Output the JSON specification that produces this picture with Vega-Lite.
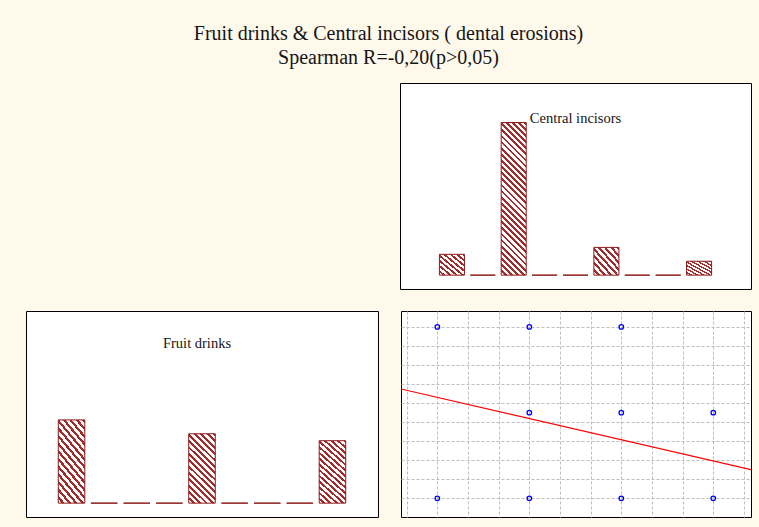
{
  "$schema": "https://vega.github.io/schema/vega-lite/v6.json",
  "background": "#FFF9EC",
  "padding": {"left": 25, "top": 23, "right": 7, "bottom": 10},
  "title": {
    "text": ["Fruit drinks & Central incisors ( dental erosions)", "Spearman R=-0,20(p>0,05)"],
    "font": "Liberation Serif", "fontSize": 20, "fontWeight": "normal", "color": "#151515",
    "lineHeight": 24, "anchor": "middle", "offset": 15
  },
  "config": {
    "view": {"fill": "#FFFFFF", "stroke": "#000000", "strokeWidth": 1}
  },
  "datasets": {
    "central": [
      {"bin": 1, "count": 3}, {"bin": 2, "count": 0}, {"bin": 3, "count": 22},
      {"bin": 4, "count": 0}, {"bin": 5, "count": 0}, {"bin": 6, "count": 4},
      {"bin": 7, "count": 0}, {"bin": 8, "count": 0}, {"bin": 9, "count": 2}
    ],
    "fruit": [
      {"bin": 1, "count": 12}, {"bin": 2, "count": 0}, {"bin": 3, "count": 0},
      {"bin": 4, "count": 0}, {"bin": 5, "count": 10}, {"bin": 6, "count": 0},
      {"bin": 7, "count": 0}, {"bin": 8, "count": 0}, {"bin": 9, "count": 9}
    ],
    "scatter": [
      {"x": 0, "y": 2}, {"x": 1, "y": 2}, {"x": 2, "y": 2},
      {"x": 1, "y": 1}, {"x": 2, "y": 1}, {"x": 3, "y": 1},
      {"x": 0, "y": 0}, {"x": 1, "y": 0}, {"x": 2, "y": 0}, {"x": 3, "y": 0}
    ],
    "fit": [
      {"x": -0.395, "y": 1.276}, {"x": 3.41, "y": 0.334}
    ]
  },
  "vconcat": [
    {
      "spacing": 21,
      "hconcat": [
        {
          "width": 352, "height": 206,
          "data": {"values": []},
          "mark": {"type": "point", "opacity": 0, "size": 0},
          "view": {"stroke": null, "fill": null}
        },
        {
          "width": 351, "height": 206,
          "data": {"name": "central"},
          "layer": [
            {
              "transform": [{"filter": "datum.count < 10"}],
              "mark": {
                "type": "bar", "stroke": "#8B1A1A", "strokeWidth": 1,
                "fill": {"gradient": "linear", "x1": 0, "y1": 1, "x2": 1, "y2": 0, "stops": [
                  {"offset": 0, "color": "#FFFFFF"}, {"offset": 0.0688, "color": "#FFFFFF"}, {"offset": 0.0688, "color": "#A02C2C"}, {"offset": 0.125, "color": "#A02C2C"},
                  {"offset": 0.125, "color": "#FFFFFF"}, {"offset": 0.1938, "color": "#FFFFFF"}, {"offset": 0.1938, "color": "#A02C2C"}, {"offset": 0.25, "color": "#A02C2C"},
                  {"offset": 0.25, "color": "#FFFFFF"}, {"offset": 0.3188, "color": "#FFFFFF"}, {"offset": 0.3188, "color": "#A02C2C"}, {"offset": 0.375, "color": "#A02C2C"},
                  {"offset": 0.375, "color": "#FFFFFF"}, {"offset": 0.4438, "color": "#FFFFFF"}, {"offset": 0.4438, "color": "#A02C2C"}, {"offset": 0.5, "color": "#A02C2C"},
                  {"offset": 0.5, "color": "#FFFFFF"}, {"offset": 0.5688, "color": "#FFFFFF"}, {"offset": 0.5688, "color": "#A02C2C"}, {"offset": 0.625, "color": "#A02C2C"},
                  {"offset": 0.625, "color": "#FFFFFF"}, {"offset": 0.6938, "color": "#FFFFFF"}, {"offset": 0.6938, "color": "#A02C2C"}, {"offset": 0.75, "color": "#A02C2C"},
                  {"offset": 0.75, "color": "#FFFFFF"}, {"offset": 0.8188, "color": "#FFFFFF"}, {"offset": 0.8188, "color": "#A02C2C"}, {"offset": 0.875, "color": "#A02C2C"},
                  {"offset": 0.875, "color": "#FFFFFF"}, {"offset": 0.9438, "color": "#FFFFFF"}, {"offset": 0.9438, "color": "#A02C2C"}, {"offset": 1, "color": "#A02C2C"}
                ]}
              },
              "encoding": {
                "x": {"field": "bin", "type": "ordinal", "scale": {"domain": [0, 1, 2, 3, 4, 5, 6, 7, 8, 9, 10], "paddingInner": 0.19, "paddingOuter": 0.275}, "axis": null},
                "y": {"field": "count", "type": "quantitative", "scale": {"domain": [-2, 27.7], "nice": false, "zero": false}, "axis": null},
                "y2": {"datum": 0}
              }
            },
            {
              "transform": [{"filter": "datum.count >= 10"}],
              "mark": {
                "type": "bar", "stroke": "#8B1A1A", "strokeWidth": 1,
                "fill": {"gradient": "linear", "x1": 0, "y1": 1, "x2": 0.1858, "y2": -0.1334, "stops": [
                  {"offset": 0, "color": "#FFFFFF"}, {"offset": 0.019, "color": "#FFFFFF"}, {"offset": 0.019, "color": "#A02C2C"}, {"offset": 0.0345, "color": "#A02C2C"},
                  {"offset": 0.0345, "color": "#FFFFFF"}, {"offset": 0.0534, "color": "#FFFFFF"}, {"offset": 0.0534, "color": "#A02C2C"}, {"offset": 0.069, "color": "#A02C2C"},
                  {"offset": 0.069, "color": "#FFFFFF"}, {"offset": 0.0879, "color": "#FFFFFF"}, {"offset": 0.0879, "color": "#A02C2C"}, {"offset": 0.1034, "color": "#A02C2C"},
                  {"offset": 0.1034, "color": "#FFFFFF"}, {"offset": 0.1224, "color": "#FFFFFF"}, {"offset": 0.1224, "color": "#A02C2C"}, {"offset": 0.1379, "color": "#A02C2C"},
                  {"offset": 0.1379, "color": "#FFFFFF"}, {"offset": 0.1569, "color": "#FFFFFF"}, {"offset": 0.1569, "color": "#A02C2C"}, {"offset": 0.1724, "color": "#A02C2C"},
                  {"offset": 0.1724, "color": "#FFFFFF"}, {"offset": 0.1914, "color": "#FFFFFF"}, {"offset": 0.1914, "color": "#A02C2C"}, {"offset": 0.2069, "color": "#A02C2C"},
                  {"offset": 0.2069, "color": "#FFFFFF"}, {"offset": 0.2259, "color": "#FFFFFF"}, {"offset": 0.2259, "color": "#A02C2C"}, {"offset": 0.2414, "color": "#A02C2C"},
                  {"offset": 0.2414, "color": "#FFFFFF"}, {"offset": 0.2603, "color": "#FFFFFF"}, {"offset": 0.2603, "color": "#A02C2C"}, {"offset": 0.2759, "color": "#A02C2C"},
                  {"offset": 0.2759, "color": "#FFFFFF"}, {"offset": 0.2948, "color": "#FFFFFF"}, {"offset": 0.2948, "color": "#A02C2C"}, {"offset": 0.3103, "color": "#A02C2C"},
                  {"offset": 0.3103, "color": "#FFFFFF"}, {"offset": 0.3293, "color": "#FFFFFF"}, {"offset": 0.3293, "color": "#A02C2C"}, {"offset": 0.3448, "color": "#A02C2C"},
                  {"offset": 0.3448, "color": "#FFFFFF"}, {"offset": 0.3638, "color": "#FFFFFF"}, {"offset": 0.3638, "color": "#A02C2C"}, {"offset": 0.3793, "color": "#A02C2C"},
                  {"offset": 0.3793, "color": "#FFFFFF"}, {"offset": 0.3983, "color": "#FFFFFF"}, {"offset": 0.3983, "color": "#A02C2C"}, {"offset": 0.4138, "color": "#A02C2C"},
                  {"offset": 0.4138, "color": "#FFFFFF"}, {"offset": 0.4328, "color": "#FFFFFF"}, {"offset": 0.4328, "color": "#A02C2C"}, {"offset": 0.4483, "color": "#A02C2C"},
                  {"offset": 0.4483, "color": "#FFFFFF"}, {"offset": 0.4672, "color": "#FFFFFF"}, {"offset": 0.4672, "color": "#A02C2C"}, {"offset": 0.4828, "color": "#A02C2C"},
                  {"offset": 0.4828, "color": "#FFFFFF"}, {"offset": 0.5017, "color": "#FFFFFF"}, {"offset": 0.5017, "color": "#A02C2C"}, {"offset": 0.5172, "color": "#A02C2C"},
                  {"offset": 0.5172, "color": "#FFFFFF"}, {"offset": 0.5362, "color": "#FFFFFF"}, {"offset": 0.5362, "color": "#A02C2C"}, {"offset": 0.5517, "color": "#A02C2C"},
                  {"offset": 0.5517, "color": "#FFFFFF"}, {"offset": 0.5707, "color": "#FFFFFF"}, {"offset": 0.5707, "color": "#A02C2C"}, {"offset": 0.5862, "color": "#A02C2C"},
                  {"offset": 0.5862, "color": "#FFFFFF"}, {"offset": 0.6052, "color": "#FFFFFF"}, {"offset": 0.6052, "color": "#A02C2C"}, {"offset": 0.6207, "color": "#A02C2C"},
                  {"offset": 0.6207, "color": "#FFFFFF"}, {"offset": 0.6397, "color": "#FFFFFF"}, {"offset": 0.6397, "color": "#A02C2C"}, {"offset": 0.6552, "color": "#A02C2C"},
                  {"offset": 0.6552, "color": "#FFFFFF"}, {"offset": 0.6741, "color": "#FFFFFF"}, {"offset": 0.6741, "color": "#A02C2C"}, {"offset": 0.6897, "color": "#A02C2C"},
                  {"offset": 0.6897, "color": "#FFFFFF"}, {"offset": 0.7086, "color": "#FFFFFF"}, {"offset": 0.7086, "color": "#A02C2C"}, {"offset": 0.7241, "color": "#A02C2C"},
                  {"offset": 0.7241, "color": "#FFFFFF"}, {"offset": 0.7431, "color": "#FFFFFF"}, {"offset": 0.7431, "color": "#A02C2C"}, {"offset": 0.7586, "color": "#A02C2C"},
                  {"offset": 0.7586, "color": "#FFFFFF"}, {"offset": 0.7776, "color": "#FFFFFF"}, {"offset": 0.7776, "color": "#A02C2C"}, {"offset": 0.7931, "color": "#A02C2C"},
                  {"offset": 0.7931, "color": "#FFFFFF"}, {"offset": 0.8121, "color": "#FFFFFF"}, {"offset": 0.8121, "color": "#A02C2C"}, {"offset": 0.8276, "color": "#A02C2C"},
                  {"offset": 0.8276, "color": "#FFFFFF"}, {"offset": 0.8466, "color": "#FFFFFF"}, {"offset": 0.8466, "color": "#A02C2C"}, {"offset": 0.8621, "color": "#A02C2C"},
                  {"offset": 0.8621, "color": "#FFFFFF"}, {"offset": 0.881, "color": "#FFFFFF"}, {"offset": 0.881, "color": "#A02C2C"}, {"offset": 0.8966, "color": "#A02C2C"},
                  {"offset": 0.8966, "color": "#FFFFFF"}, {"offset": 0.9155, "color": "#FFFFFF"}, {"offset": 0.9155, "color": "#A02C2C"}, {"offset": 0.931, "color": "#A02C2C"},
                  {"offset": 0.931, "color": "#FFFFFF"}, {"offset": 0.95, "color": "#FFFFFF"}, {"offset": 0.95, "color": "#A02C2C"}, {"offset": 0.9655, "color": "#A02C2C"},
                  {"offset": 0.9655, "color": "#FFFFFF"}, {"offset": 0.9845, "color": "#FFFFFF"}, {"offset": 0.9845, "color": "#A02C2C"}, {"offset": 1, "color": "#A02C2C"}
                ]}
              },
              "encoding": {
                "x": {"field": "bin", "type": "ordinal", "scale": {"domain": [0, 1, 2, 3, 4, 5, 6, 7, 8, 9, 10], "paddingInner": 0.19, "paddingOuter": 0.275}, "axis": null},
                "y": {"field": "count", "type": "quantitative", "scale": {"domain": [-2, 27.7], "nice": false, "zero": false}, "axis": null},
                "y2": {"datum": 0}
              }
            },
            {
              "data": {"values": [{"label": "Central incisors"}]},
              "mark": {"type": "text", "font": "Liberation Serif", "fontSize": 14.5, "color": "#151515", "baseline": "middle", "align": "center"},
              "encoding": {
                "x": {"datum": 5, "type": "ordinal"},
                "y": {"datum": 22.5, "type": "quantitative"},
                "text": {"field": "label", "type": "nominal"}
              }
            }
          ]
        }
      ]
    },
    {
      "spacing": 21,
      "hconcat": [
        {
          "width": 352, "height": 206,
          "data": {"name": "fruit"},
          "layer": [
            {
              "mark": {
                "type": "bar", "stroke": "#8B1A1A", "strokeWidth": 1,
                "fill": {"gradient": "linear", "x1": 0, "y1": 1, "x2": 0.455, "y2": -0.2057, "stops": [
                  {"offset": 0, "color": "#FFFFFF"}, {"offset": 0.0367, "color": "#FFFFFF"}, {"offset": 0.0367, "color": "#A02C2C"}, {"offset": 0.0667, "color": "#A02C2C"},
                  {"offset": 0.0667, "color": "#FFFFFF"}, {"offset": 0.1033, "color": "#FFFFFF"}, {"offset": 0.1033, "color": "#A02C2C"}, {"offset": 0.1333, "color": "#A02C2C"},
                  {"offset": 0.1333, "color": "#FFFFFF"}, {"offset": 0.17, "color": "#FFFFFF"}, {"offset": 0.17, "color": "#A02C2C"}, {"offset": 0.2, "color": "#A02C2C"},
                  {"offset": 0.2, "color": "#FFFFFF"}, {"offset": 0.2367, "color": "#FFFFFF"}, {"offset": 0.2367, "color": "#A02C2C"}, {"offset": 0.2667, "color": "#A02C2C"},
                  {"offset": 0.2667, "color": "#FFFFFF"}, {"offset": 0.3033, "color": "#FFFFFF"}, {"offset": 0.3033, "color": "#A02C2C"}, {"offset": 0.3333, "color": "#A02C2C"},
                  {"offset": 0.3333, "color": "#FFFFFF"}, {"offset": 0.37, "color": "#FFFFFF"}, {"offset": 0.37, "color": "#A02C2C"}, {"offset": 0.4, "color": "#A02C2C"},
                  {"offset": 0.4, "color": "#FFFFFF"}, {"offset": 0.4367, "color": "#FFFFFF"}, {"offset": 0.4367, "color": "#A02C2C"}, {"offset": 0.4667, "color": "#A02C2C"},
                  {"offset": 0.4667, "color": "#FFFFFF"}, {"offset": 0.5033, "color": "#FFFFFF"}, {"offset": 0.5033, "color": "#A02C2C"}, {"offset": 0.5333, "color": "#A02C2C"},
                  {"offset": 0.5333, "color": "#FFFFFF"}, {"offset": 0.57, "color": "#FFFFFF"}, {"offset": 0.57, "color": "#A02C2C"}, {"offset": 0.6, "color": "#A02C2C"},
                  {"offset": 0.6, "color": "#FFFFFF"}, {"offset": 0.6367, "color": "#FFFFFF"}, {"offset": 0.6367, "color": "#A02C2C"}, {"offset": 0.6667, "color": "#A02C2C"},
                  {"offset": 0.6667, "color": "#FFFFFF"}, {"offset": 0.7033, "color": "#FFFFFF"}, {"offset": 0.7033, "color": "#A02C2C"}, {"offset": 0.7333, "color": "#A02C2C"},
                  {"offset": 0.7333, "color": "#FFFFFF"}, {"offset": 0.77, "color": "#FFFFFF"}, {"offset": 0.77, "color": "#A02C2C"}, {"offset": 0.8, "color": "#A02C2C"},
                  {"offset": 0.8, "color": "#FFFFFF"}, {"offset": 0.8367, "color": "#FFFFFF"}, {"offset": 0.8367, "color": "#A02C2C"}, {"offset": 0.8667, "color": "#A02C2C"},
                  {"offset": 0.8667, "color": "#FFFFFF"}, {"offset": 0.9033, "color": "#FFFFFF"}, {"offset": 0.9033, "color": "#A02C2C"}, {"offset": 0.9333, "color": "#A02C2C"},
                  {"offset": 0.9333, "color": "#FFFFFF"}, {"offset": 0.97, "color": "#FFFFFF"}, {"offset": 0.97, "color": "#A02C2C"}, {"offset": 1, "color": "#A02C2C"}
                ]}
              },
              "encoding": {
                "x": {"field": "bin", "type": "ordinal", "scale": {"domain": [1, 2, 3, 4, 5, 6, 7, 8, 9], "paddingInner": 0.187, "paddingOuter": 0.99}, "axis": null},
                "y": {"field": "count", "type": "quantitative", "scale": {"domain": [-2, 27.7], "nice": false, "zero": false}, "axis": null},
                "y2": {"datum": 0}
              }
            },
            {
              "data": {"values": [{"label": "Fruit drinks"}]},
              "mark": {"type": "text", "font": "Liberation Serif", "fontSize": 14.5, "color": "#151515", "baseline": "middle", "align": "center", "dx": -5},
              "encoding": {
                "x": {"datum": 5, "type": "ordinal"},
                "y": {"datum": 22.9, "type": "quantitative"},
                "text": {"field": "label", "type": "nominal"}
              }
            }
          ]
        },
        {
          "width": 350, "height": 206,
          "encoding": {
            "x": {"field": "x", "type": "quantitative",
              "scale": {"domain": [-0.395, 3.41], "nice": false, "zero": false},
              "axis": {"values": [-0.3333, 0, 0.3333, 0.6667, 1, 1.3333, 1.6667, 2, 2.3333, 2.6667, 3, 3.3333],
                "grid": true, "gridDash": [3, 2], "gridColor": "#BDBDBD", "gridWidth": 1,
                "labels": false, "ticks": false, "domain": false, "title": null}},
            "y": {"field": "y", "type": "quantitative",
              "scale": {"domain": [-0.218, 2.186], "nice": false, "zero": false},
              "axis": {"values": [0, 0.2222, 0.4444, 0.6667, 0.8889, 1.1111, 1.3333, 1.5556, 1.7778, 2],
                "grid": true, "gridDash": [3, 2], "gridColor": "#BDBDBD", "gridWidth": 1,
                "labels": false, "ticks": false, "domain": false, "title": null}}
          },
          "layer": [
            {
              "data": {"name": "fit"},
              "mark": {"type": "line", "color": "#FF0000", "strokeWidth": 1.2, "clip": true}
            },
            {
              "data": {"name": "scatter"},
              "mark": {"type": "point", "shape": "circle", "filled": false, "color": "#0000FF", "size": 20, "strokeWidth": 1.3, "opacity": 1}
            }
          ]
        }
      ]
    }
  ],
  "spacing": 20
}
